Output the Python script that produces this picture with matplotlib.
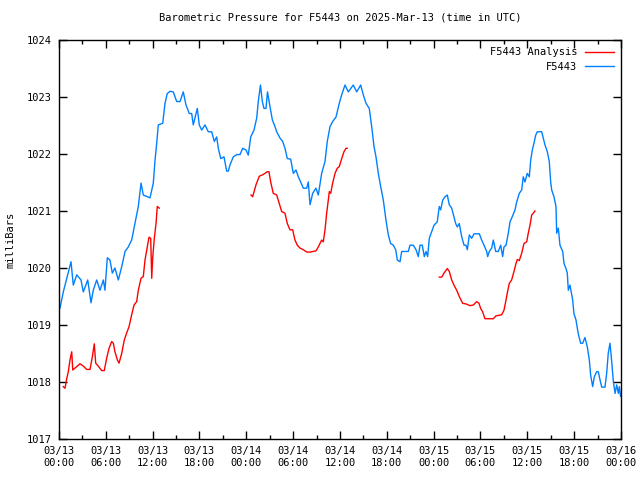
import numpy as np
import pandas as pd
import matplotlib
matplotlib.use("Agg")
import matplotlib.pyplot as plt
import matplotlib.dates as mdates

# Hours after 2025-03-13 00:00 UTC and pressure in millibars
station_hours = [
    0.13, 0.55, 1.54, 1.83, 2.27, 2.82, 3.11, 3.68, 4.10, 4.39, 4.83, 5.25, 5.68, 5.89,
    6.19, 6.53, 6.83, 7.17, 7.60, 8.03, 8.46, 8.88, 9.31, 9.74, 10.16, 10.51, 10.80,
    11.66, 12.08, 12.30, 12.52, 12.72, 13.29, 13.58, 13.87, 14.22, 14.64, 15.08, 15.50,
    15.92, 16.27, 16.69, 17.00, 17.20, 17.72, 17.97, 18.28, 18.70, 19.13, 19.56, 19.90,
    20.20, 20.41, 20.72, 21.14, 21.48, 21.69, 21.91, 22.33, 22.77, 23.19, 23.53, 23.96,
    24.25, 24.56, 24.98, 25.33, 25.53, 25.81, 26.05, 26.26, 26.52, 26.71, 27.03, 27.33,
    27.67, 27.89, 28.31, 28.66, 28.95, 29.25, 29.68, 30.02, 30.36, 30.66, 30.96, 31.30,
    31.73, 31.94, 32.16, 32.50, 32.92, 33.22, 33.65, 34.08, 34.37, 34.72, 35.06, 35.49,
    35.91, 36.22, 36.64, 37.06, 37.70, 38.14, 38.65, 38.98, 39.33, 39.75, 40.06, 40.36,
    40.61, 40.91, 41.21, 41.55, 41.89, 42.19, 42.49, 42.83, 43.14, 43.34, 43.69, 43.90,
    44.75, 44.97, 45.39, 45.74, 46.03, 46.25, 46.54, 46.80, 47.02, 47.23, 47.44, 47.75,
    48.04, 48.46, 48.72, 48.90, 49.16, 49.45, 49.75, 50.00, 50.31, 50.60, 50.82, 51.03,
    51.28, 51.59, 51.89, 52.14, 52.31, 52.57, 52.87, 53.17, 53.85, 54.15, 54.45, 54.79,
    54.92, 55.13, 55.44, 55.64, 55.95, 56.28, 56.59, 56.84, 57.01, 57.27, 57.56, 57.78,
    58.07, 58.42, 58.64, 58.97, 59.28, 59.48, 59.70, 59.99, 60.25, 60.43, 60.64, 60.85,
    61.07, 61.28, 61.84, 62.04, 62.26, 62.56, 62.81, 62.99, 63.12, 63.41, 63.67, 63.76,
    63.97, 64.18, 64.53, 64.70, 64.95, 65.12, 65.25, 65.46, 65.81, 65.97, 66.23, 66.52,
    66.83, 67.09, 67.38, 67.68, 67.94, 68.11, 68.37, 68.58, 68.88, 69.09, 69.31, 69.53,
    69.95, 70.17, 70.37, 70.59, 70.81, 71.02, 71.24, 71.45, 71.66, 71.79, 71.94,
]
station_mb = [
    1019.30, 1019.58, 1020.11, 1019.70, 1019.88, 1019.79, 1019.58, 1019.79, 1019.39,
    1019.61, 1019.79, 1019.61, 1019.79, 1019.61, 1020.18, 1020.14, 1019.91, 1020.00,
    1019.79, 1020.02, 1020.29, 1020.37, 1020.49, 1020.79, 1021.08, 1021.49, 1021.28,
    1021.23, 1021.49, 1021.89, 1022.19, 1022.51, 1022.54, 1022.89, 1023.06, 1023.10,
    1023.09, 1022.92, 1022.92, 1023.09, 1022.86, 1022.71, 1022.71, 1022.51, 1022.80,
    1022.51, 1022.42, 1022.51, 1022.39, 1022.39, 1022.22, 1022.30, 1022.10, 1021.92,
    1021.95, 1021.70, 1021.70, 1021.81, 1021.95, 1021.99, 1021.99, 1022.10, 1022.07,
    1021.98, 1022.30, 1022.42, 1022.63, 1022.92, 1023.21, 1022.92, 1022.80, 1022.80,
    1023.09, 1022.83, 1022.60, 1022.48, 1022.39, 1022.28, 1022.22, 1022.10, 1021.92,
    1021.91, 1021.66, 1021.72, 1021.60, 1021.51, 1021.40, 1021.40, 1021.51, 1021.11,
    1021.31, 1021.40, 1021.28, 1021.66, 1021.87, 1022.22, 1022.48, 1022.57, 1022.65,
    1022.89, 1023.04, 1023.21, 1023.09, 1023.21, 1023.09, 1023.21, 1023.04, 1022.89,
    1022.80, 1022.48, 1022.13, 1021.95, 1021.66, 1021.43, 1021.19, 1020.84, 1020.58,
    1020.43, 1020.40, 1020.32, 1020.14, 1020.11, 1020.29, 1020.29, 1020.40, 1020.40,
    1020.32, 1020.20, 1020.40, 1020.40, 1020.20, 1020.29, 1020.20, 1020.52, 1020.64,
    1020.75, 1020.81, 1021.08, 1021.02, 1021.19, 1021.25, 1021.28, 1021.11, 1021.05,
    1020.90, 1020.78, 1020.72, 1020.78, 1020.55, 1020.40, 1020.40, 1020.32, 1020.58,
    1020.52, 1020.60, 1020.60, 1020.49, 1020.40, 1020.29, 1020.20, 1020.29, 1020.35,
    1020.49, 1020.29, 1020.29, 1020.40, 1020.20, 1020.37, 1020.40, 1020.61, 1020.81,
    1020.90, 1021.02, 1021.16, 1021.31, 1021.37, 1021.60, 1021.51, 1021.66, 1021.60,
    1021.89, 1022.07, 1022.19, 1022.33, 1022.39, 1022.39, 1022.28, 1022.16, 1022.04,
    1021.87, 1021.51, 1021.37, 1021.25, 1021.08, 1020.61, 1020.70, 1020.40, 1020.29,
    1020.08, 1019.99, 1019.91, 1019.61, 1019.70, 1019.44, 1019.20, 1019.09, 1018.85,
    1018.68, 1018.68, 1018.78, 1018.62, 1018.39, 1018.12, 1017.92, 1018.09, 1018.18,
    1018.18, 1018.04, 1017.91, 1017.91, 1018.16, 1018.51, 1018.68, 1018.36, 1018.01,
    1017.80, 1017.95, 1017.80, 1017.92, 1017.75,
]

# analysis runs in three pieces (gaps between them)
analysis_hours_1 = [
    0.55, 0.77, 0.99, 1.19, 1.41, 1.63, 1.76, 2.27, 2.69, 3.11, 3.55, 3.97, 4.27, 4.52,
    4.70, 5.03, 5.47, 5.80, 6.11, 6.41, 6.75, 6.96, 7.17, 7.47, 7.69, 8.03, 8.37, 8.67,
    8.97, 9.31, 9.61, 9.95, 10.16, 10.51, 10.80, 11.02, 11.31, 11.53, 11.75, 11.88,
    12.00, 12.21, 12.43, 12.59, 12.85,
]
analysis_mb_1 = [
    1017.92, 1017.89, 1018.06, 1018.18, 1018.39, 1018.53, 1018.21, 1018.27, 1018.32,
    1018.28, 1018.22, 1018.22, 1018.44, 1018.67, 1018.33, 1018.28, 1018.20, 1018.20,
    1018.42, 1018.59, 1018.71, 1018.68, 1018.53, 1018.39, 1018.33, 1018.50, 1018.74,
    1018.86, 1018.97, 1019.18, 1019.35, 1019.41, 1019.61, 1019.82, 1019.85, 1020.14,
    1020.37, 1020.54, 1020.52, 1019.82, 1020.17, 1020.52, 1020.78, 1021.08, 1021.05,
]
analysis_hours_2 = [
    24.60, 24.81, 25.24, 25.66, 26.17, 26.69, 26.90, 27.12, 27.45, 27.89, 28.22, 28.53,
    28.95, 29.25, 29.59, 29.94, 30.23, 30.53, 30.87, 31.30, 31.73, 32.16, 32.92, 33.22,
    33.65, 33.86, 34.08, 34.29, 34.50, 34.63, 34.81, 35.06, 35.36, 35.65, 35.91, 36.22,
    36.51, 36.77, 36.93,
]
analysis_mb_2 = [
    1021.28, 1021.25, 1021.46, 1021.61, 1021.64, 1021.69, 1021.69, 1021.51, 1021.31,
    1021.28, 1021.13, 1020.99, 1020.96, 1020.78, 1020.67, 1020.67, 1020.49, 1020.40,
    1020.35, 1020.32, 1020.28, 1020.28, 1020.30, 1020.37, 1020.49, 1020.46, 1020.67,
    1020.96, 1021.19, 1021.34, 1021.31, 1021.49, 1021.66, 1021.75, 1021.78, 1021.92,
    1022.04, 1022.10, 1022.10,
]
analysis_hours_3 = [
    48.72, 49.03, 49.32, 49.75, 50.00, 50.31, 50.60, 50.95, 51.28, 51.72, 52.14, 52.65,
    53.08, 53.51, 53.81, 54.02, 54.28, 54.57, 55.64, 55.98, 56.71, 57.01, 57.27, 57.43,
    57.69, 57.99, 58.29, 58.55, 58.72, 58.97, 59.28, 59.57, 59.92, 60.12, 60.34, 60.56,
    60.76, 60.98,
]
analysis_mb_3 = [
    1019.84, 1019.84, 1019.91, 1019.99, 1019.94, 1019.79, 1019.70, 1019.61, 1019.50,
    1019.38, 1019.37, 1019.34, 1019.35, 1019.41, 1019.38, 1019.29, 1019.23, 1019.11,
    1019.11, 1019.16, 1019.18, 1019.26, 1019.44, 1019.56, 1019.73, 1019.79, 1019.94,
    1020.08, 1020.15, 1020.13, 1020.26, 1020.43, 1020.46, 1020.61, 1020.75, 1020.93,
    1020.96, 1021.00,
]

start = pd.Timestamp("2025-03-13 00:00")


def to_time(hours):
    return start + pd.to_timedelta(np.array(hours), unit="h")


plt.rcParams['font.family'] = ['DejaVu Sans Mono']
plt.rcParams['font.size'] = 7.5

fig = plt.figure(figsize=(6.4, 4.8), dpi=100)
ax = fig.add_axes([59 / 640, 41 / 480, 562 / 640, 399 / 480])

red = '#ff0000'
blue = '#0080ff'
ax.plot(to_time(analysis_hours_1), analysis_mb_1, color=red, lw=1, label='F5443 Analysis')
ax.plot(to_time(analysis_hours_2), analysis_mb_2, color=red, lw=1)
ax.plot(to_time(analysis_hours_3), analysis_mb_3, color=red, lw=1)
ax.plot(to_time(station_hours), station_mb, color=blue, lw=1, label='F5443')

ax.set_xlim(start, start + pd.Timedelta(hours=72))
ax.set_ylim(1017, 1024)
ax.set_yticks(range(1017, 1025))
ax.xaxis.set_major_locator(mdates.HourLocator(byhour=[0, 6, 12, 18]))
ax.xaxis.set_minor_locator(mdates.HourLocator(byhour=[3, 9, 15, 21]))
ax.xaxis.set_major_formatter(mdates.DateFormatter('%m/%d\n%H:%M'))

ax.tick_params(which='major', direction='in', length=6, width=1, top=True, right=True,
               pad=5, labelsize=7.5)
ax.tick_params(which='minor', direction='in', length=3, width=1, top=True, right=False)
for s in ax.spines.values():
    s.set_linewidth(1)

ax.set_ylabel('milliBars', labelpad=8)
ax.set_title('Barometric Pressure for F5443 on 2025-Mar-13 (time in UTC)', fontsize=7.5, pad=14)

ax.legend(loc='upper right', frameon=False, markerfirst=False, handlelength=2.8,
          borderaxespad=0.3, labelspacing=0.45, handletextpad=0.7, fontsize=7.5)

fig.savefig('out.png', dpi=100)
